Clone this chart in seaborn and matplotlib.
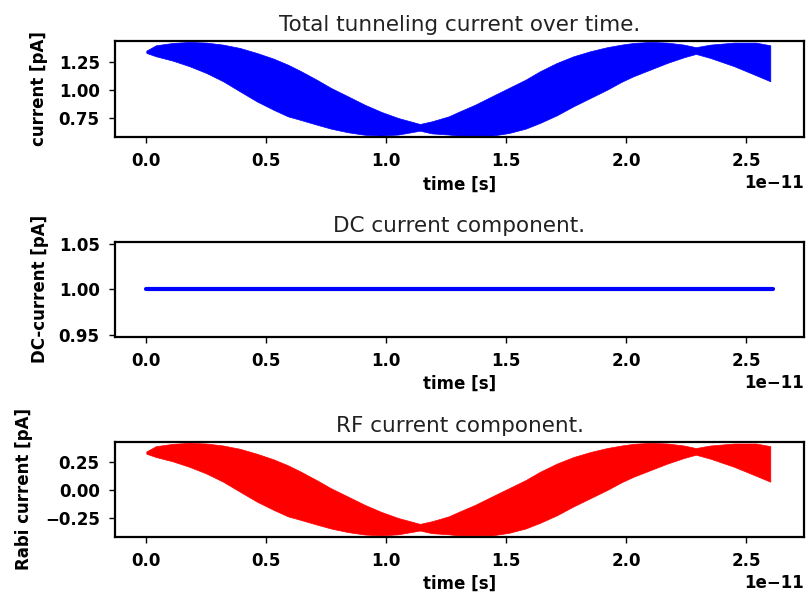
import numpy as np
import pandas as pd
import matplotlib
matplotlib.use("Agg")
import matplotlib.pyplot as plt
import seaborn as sns

# time (units of 1e-11 s) at which the envelope of the fast oscillation was read
time_e11 = [0.00, 0.04, 0.11, 0.18, 0.25, 0.32, 0.39, 0.46, 0.53, 0.59,
            0.64, 0.71, 0.77, 0.84, 0.91, 0.98, 1.05, 1.14, 1.19, 1.26,
            1.30, 1.37, 1.44, 1.51, 1.58, 1.64, 1.71, 1.78, 1.85, 1.92,
            1.98, 2.03, 2.10, 2.17, 2.24, 2.29, 2.35, 2.45, 2.54, 2.60]

# total tunneling current envelope [pA]
total_upper = [1.348, 1.396, 1.417, 1.426, 1.420, 1.402, 1.372, 1.328, 1.277, 1.223,
               1.170, 1.089, 1.015, 0.941, 0.866, 0.801, 0.747, 0.694, 0.718, 0.762,
               0.801, 0.866, 0.941, 1.015, 1.089, 1.164, 1.238, 1.298, 1.343, 1.379,
               1.402, 1.417, 1.426, 1.420, 1.402, 1.379, 1.402, 1.420, 1.420, 1.396]
total_lower = [1.328, 1.298, 1.259, 1.209, 1.149, 1.075, 0.985, 0.896, 0.821, 0.762,
               0.732, 0.688, 0.652, 0.620, 0.598, 0.590, 0.600, 0.634, 0.610, 0.600,
               0.590, 0.590, 0.590, 0.613, 0.652, 0.703, 0.771, 0.852, 0.926, 1.000,
               1.070, 1.120, 1.179, 1.238, 1.289, 1.319, 1.283, 1.209, 1.129, 1.075]

# RF (Rabi) current envelope [pA]
rf_upper = [0.348, 0.396, 0.417, 0.426, 0.420, 0.402, 0.372, 0.328, 0.277, 0.223,
            0.170, 0.089, 0.015, -0.059, -0.134, -0.199, -0.253, -0.306, -0.282, -0.238,
            -0.199, -0.134, -0.059, 0.015, 0.089, 0.164, 0.238, 0.298, 0.343, 0.379,
            0.402, 0.417, 0.426, 0.420, 0.402, 0.379, 0.402, 0.420, 0.420, 0.396]
rf_lower = [0.328, 0.298, 0.259, 0.209, 0.149, 0.075, -0.015, -0.104, -0.179, -0.238,
            -0.268, -0.312, -0.348, -0.380, -0.402, -0.410, -0.400, -0.366, -0.390, -0.400,
            -0.410, -0.410, -0.410, -0.387, -0.348, -0.297, -0.229, -0.148, -0.074, 0.000,
            0.070, 0.120, 0.179, 0.238, 0.289, 0.319, 0.283, 0.209, 0.129, 0.075]

# DC component [pA]
dc_time_e11 = [0.0, 2.61]
dc_current = [1.0, 1.0]

t = np.array(time_e11) * 1e-11
dc_df = pd.DataFrame({"time": np.array(dc_time_e11) * 1e-11, "dc": dc_current})

sns.set_style("ticks")
plt.rcParams["font.family"] = ["DejaVu Sans"]
plt.rcParams["axes.linewidth"] = 1.6
plt.rcParams["xtick.major.width"] = 1.0
plt.rcParams["ytick.major.width"] = 1.0
plt.rcParams["xtick.color"] = "black"
plt.rcParams["ytick.color"] = "black"
plt.rcParams["axes.edgecolor"] = "black"

fig = plt.figure(figsize=(8.07, 5.93), dpi=100)
ax1 = fig.add_axes([0.1425, 0.769, 0.8538, 0.162])
ax2 = fig.add_axes([0.1425, 0.4322, 0.8538, 0.160])
ax3 = fig.add_axes([0.1425, 0.0949, 0.8538, 0.160])

ax1.fill_between(t, total_lower, total_upper, color="#0000ff", lw=0.5)
sns.lineplot(data=dc_df, x="time", y="dc", ax=ax2, color="#0000ff", lw=3)
ax3.fill_between(t, rf_lower, rf_upper, color="#ff0000", lw=0.5)

ax1.set_ylim(0.578, 1.435)
ax1.set_yticks([0.75, 1.00, 1.25])
ax2.set_ylim(0.948, 1.0525)
ax2.set_yticks([0.95, 1.00, 1.05])
ax3.set_ylim(-0.422, 0.435)
ax3.set_yticks([-0.25, 0.00, 0.25])

titles = ["Total tunneling current over time.", "DC current component.", "RF current component."]
ylabels = ["current [pA]", "DC-current [pA]", "Rabi current [pA]"]
ylab_x = [-0.097, -0.096, -0.119]
for ax, title, yl, lx in zip([ax1, ax2, ax3], titles, ylabels, ylab_x):
    ax.set_xlim(-0.1305e-11, 2.7405e-11)
    ax.set_xticks(np.array([0.0, 0.5, 1.0, 1.5, 2.0, 2.5]) * 1e-11)
    ax.set_title(title, fontsize=15.5, color="#222222", pad=7)
    ax.set_xlabel("time [s]", fontsize=12, fontweight="bold", color="black")
    ax.set_ylabel(yl, fontsize=12, fontweight="bold", color="black")
    ax.yaxis.set_label_coords(lx, 0.5)
    ax.xaxis.set_label_coords(0.5, -0.40)
    ax.tick_params(labelsize=12, length=4.5, pad=6.5)
    for lab in ax.get_xticklabels() + ax.get_yticklabels():
        lab.set_fontweight("bold")
    ax.xaxis.get_offset_text().set_fontweight("bold")
    ax.xaxis.get_offset_text().set_fontsize(12)
    for s in ax.spines.values():
        s.set_visible(True)

plt.savefig("out.png", dpi=100)
